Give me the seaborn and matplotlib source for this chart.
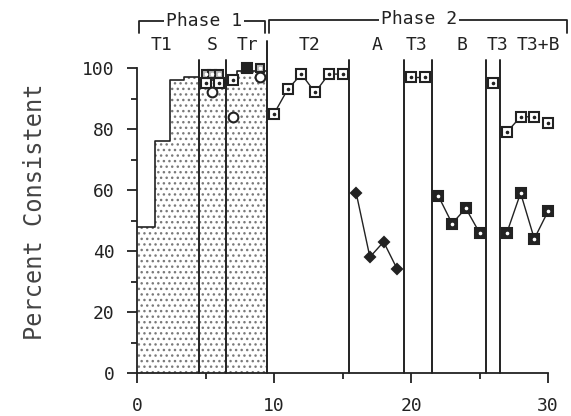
import matplotlib
matplotlib.use("Agg")
import matplotlib.pyplot as plt
from matplotlib.ticker import MultipleLocator
import seaborn as sns

# -------------------------------
# Data
# -------------------------------
# stepped training block under phase 1 (bin edges + height of each bin)
fill_edges = [0, 1.3, 2.4, 3.4, 4.5, 6.5, 7.3, 9.5]
fill_pct = [48, 76, 96, 97, 96, 95, 99]

# phase 1 markers
check_sq_x = [5, 5.5, 6, 9]
check_sq_y = [98, 98, 98, 100]
open_sq_x = [5, 6, 7]
open_sq_y = [95, 95, 96]
circle_x = [5.5, 7, 9]
circle_y = [92, 84, 97]
black_sq_x = [8]
black_sq_y = [100]

# phase 2 sessions
t2_x = [10, 11, 12, 13, 14, 15]
t2_y = [85, 93, 98, 92, 98, 98]
a_x = [16, 17, 18, 19]
a_y = [59, 38, 43, 34]
t3_first_x = [20, 21]
t3_first_y = [97, 97]
b_x = [22, 23, 24, 25]
b_y = [58, 49, 54, 46]
t3_second_x = [26]
t3_second_y = [95]
t3b_top_x = [27, 28, 29]
t3b_top_y = [79, 84, 84]
t3b_top_last_x = [30]
t3b_top_last_y = [82]
t3b_low_x = [27, 28, 29, 30]
t3b_low_y = [46, 59, 44, 53]

# condition boundaries and labels
p1_separators = [4.5, 6.5]
phase_end = 9.5
p2_separators = [15.5, 19.5, 21.5, 25.5, 26.5]
cond_labels = ["T1", "S", "Tr", "T2", "A", "T3", "B", "T3", "T3+B"]
cond_pos = [1.8, 5.5, 8.1, 12.6, 17.5, 20.4, 23.7, 26.3, 29.3]

INK = "#222222"

sns.set_style("ticks")
plt.rcParams["font.family"] = ["DejaVu Sans Mono", "DejaVu Sans"]
plt.rcParams["hatch.linewidth"] = 1.0
plt.rcParams["hatch.color"] = "#7a7a7a"

fig = plt.figure(figsize=(5.71, 4.16), dpi=100)
ax = fig.add_axes([137 / 571, 1 - 373 / 416, 411 / 571, 305 / 416])

# stippled step block
ax.fill_between(fill_edges, fill_pct + [fill_pct[-1]], step="post",
                facecolor="white", edgecolor="#7a7a7a", hatch="...", lw=0, zorder=1)
ax.step(fill_edges, fill_pct + [fill_pct[-1]], where="post", color=INK, lw=1.2, zorder=2)

# condition separators
for xs in p1_separators + p2_separators:
    ax.plot([xs, xs], [0, 102.5], color=INK, lw=1.4, clip_on=False, zorder=2)
ax.plot([phase_end, phase_end], [0, 109], color=INK, lw=1.4, clip_on=False, zorder=2)


def series(x, y, marker, ms, face, edge=INK, mew=1.5, line=True, dot=None):
    sns.lineplot(x=x, y=y, ax=ax, color=INK, lw=1.0 if line else 0,
                 marker=marker, markersize=ms, markerfacecolor=face,
                 markeredgecolor=edge, markeredgewidth=mew,
                 estimator=None, sort=False, clip_on=False, zorder=4)
    if dot is not None:
        ax.plot(x, y, ls="none", marker="o", ms=1.6, color=dot,
                clip_on=False, zorder=5)


# phase 1 overlays
series(open_sq_x, open_sq_y, "s", 6.5, "white", line=False, dot=INK)
series(circle_x, circle_y, "o", 7, "white", line=False)
series(check_sq_x, check_sq_y, "s", 6, "#b5b5b5", line=False, dot="white")
series(black_sq_x, black_sq_y, "s", 6.5, INK, line=False)

# phase 2 series
series(t2_x, t2_y, "s", 7.3, "white", dot=INK)
series(a_x, a_y, "D", 5, INK)
series(t3_first_x, t3_first_y, "s", 7.3, "white", dot=INK)
series(b_x, b_y, "s", 7.3, INK, dot="white")
series(t3_second_x, t3_second_y, "s", 7.3, "white", dot=INK)
series(t3b_top_x, t3b_top_y, "s", 7.3, "white", dot=INK)
series(t3b_top_last_x, t3b_top_last_y, "s", 7.3, "white", line=False, dot=INK)
series(t3b_low_x, t3b_low_y, "s", 7.3, INK, dot="white")

# phase brackets
ax.plot([0.15, 0.15, 9.35, 9.35], [111.5, 115.3, 115.3, 111.5],
        color=INK, lw=1.3, clip_on=False)
ax.plot([9.65, 9.65, 31.4, 31.4], [111.5, 115.8, 115.8, 111.5],
        color=INK, lw=1.3, clip_on=False)
ax.text(4.9, 115.5, "Phase 1", ha="center", va="center", fontsize=13, color=INK,
        bbox=dict(facecolor="white", edgecolor="none", pad=1.5))
ax.text(20.6, 116, "Phase 2", ha="center", va="center", fontsize=13, color=INK,
        bbox=dict(facecolor="white", edgecolor="none", pad=1.5))
for lab, xp in zip(cond_labels, cond_pos):
    ax.text(xp, 107.5, lab, ha="center", va="center", fontsize=13, color=INK)

# axes
ax.set_xlim(0, 30)
ax.set_ylim(0, 100)
ax.xaxis.set_major_locator(MultipleLocator(10))
ax.xaxis.set_minor_locator(MultipleLocator(5))
ax.yaxis.set_major_locator(MultipleLocator(20))
ax.yaxis.set_minor_locator(MultipleLocator(10))
ax.tick_params(which="major", direction="out", length=7, width=1.3,
               color=INK, labelsize=13, labelcolor=INK)
ax.tick_params(which="minor", direction="out", length=4, width=1.3, color=INK)
ax.tick_params(axis="x", which="major", pad=10)
ax.tick_params(axis="y", which="major", pad=9)
sns.despine(ax=ax)
for sp in ("left", "bottom"):
    ax.spines[sp].set_color(INK)
    ax.spines[sp].set_linewidth(1.3)

ax.text(-0.248, 0.528, "Percent Consistent", transform=ax.transAxes,
        rotation=90, ha="center", va="center", fontsize=17, color="#444444")

fig.savefig("out.png", dpi=100)
